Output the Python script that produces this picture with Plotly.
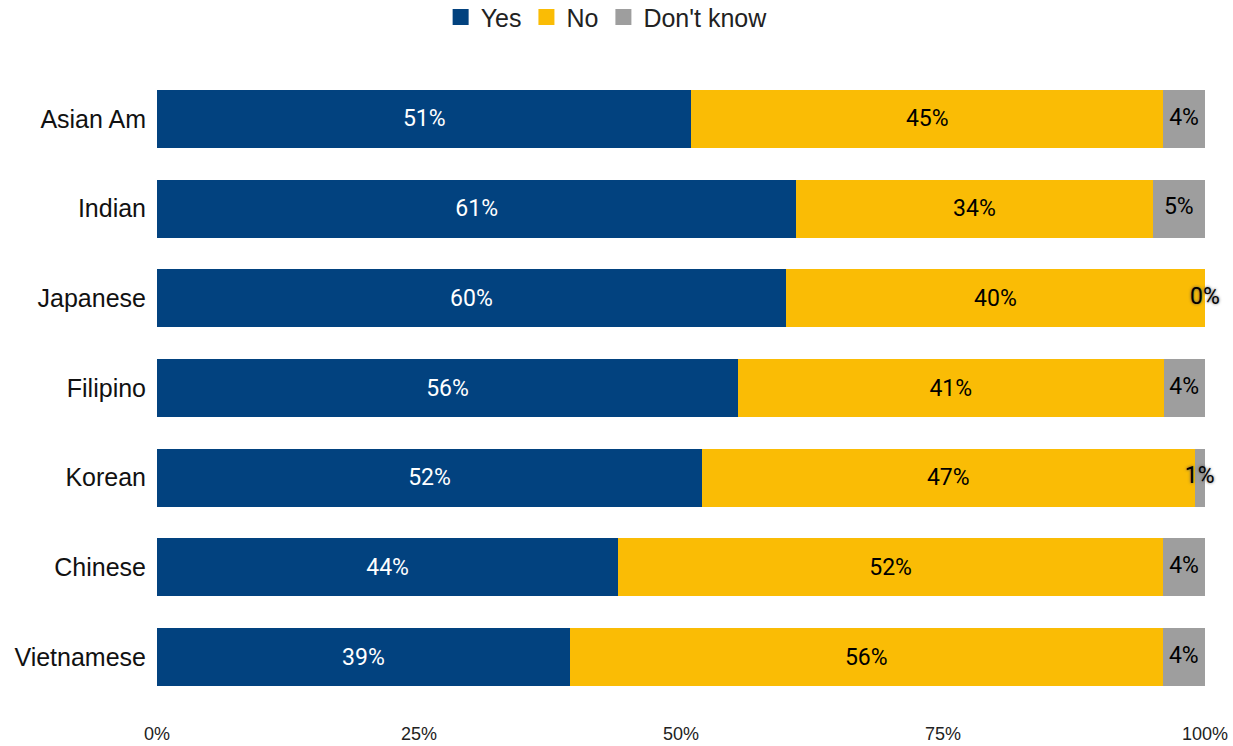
import plotly.graph_objects as go

categories = ["Asian Am", "Indian", "Japanese", "Filipino", "Korean", "Chinese", "Vietnamese"]
yes_vals = [51, 61, 60, 56, 52, 44, 39]
no_vals = [45, 34, 40, 41, 47, 52, 56]
dk_vals = [4, 5, 0, 4, 1, 4, 4]
x_ticks = [0, 25, 50, 75, 100]
x_tick_labels = ["0%", "25%", "50%", "75%", "100%"]

YES_C, NO_C, DK_C = "#02427f", "#fabc05", "#9e9e9e"
LABEL_FONT = "Roboto, Liberation Sans, Arial, sans-serif"
AXIS_FONT = "Liberation Sans, Arial, sans-serif"

series = [
    ("Yes", yes_vals, YES_C, "white", True),
    ("No", no_vals, NO_C, "black", True),
    ("Don't know", dk_vals, DK_C, "black", False),
]

fig = go.Figure()
for name, vals, color, tcolor, show_text in series:
    fig.add_trace(go.Bar(
        name=name,
        y=categories,
        x=vals,
        orientation="h",
        marker=dict(color=color, line=dict(width=0)),
        text=[f"{v}%" for v in vals] if show_text else None,
        textposition="inside" if show_text else "none",
        insidetextanchor="middle",
        constraintext="none",
        textangle=0,
        textfont=dict(color=tcolor, size=23, family=LABEL_FONT),
        hoverinfo="skip",
        showlegend=False,
    ))

# "Don't know" labels placed at the centre of the grey segment (normalised stack)
totals = [a + b + c for a, b, c in zip(yes_vals, no_vals, dk_vals)]
dk_mid = [(a + b + c / 2) / t * 100 for a, b, c, t in zip(yes_vals, no_vals, dk_vals, totals)]
fit_idx = [i for i, v in enumerate(dk_vals) if v >= 2]
over_idx = [i for i, v in enumerate(dk_vals) if v < 2]
for idx, shadow in [(fit_idx, "none"), (over_idx, "0px 0px 3px #555555")]:
    fig.add_trace(go.Scatter(
        x=[dk_mid[i] for i in idx],
        y=[categories[i] for i in idx],
        mode="text",
        text=[f"{dk_vals[i]}%" for i in idx],
        textposition="middle center",
        textfont=dict(color="black", size=23, family=LABEL_FONT, shadow=shadow),
        showlegend=False,
        hoverinfo="skip",
        cliponaxis=False,
    ))

# legend entries with larger square swatches
for name, _, color, _, _ in series:
    fig.add_trace(go.Scatter(
        x=[None], y=[None],
        mode="markers",
        name=name,
        marker=dict(symbol="square", size=19, color=color),
        showlegend=True,
        hoverinfo="skip",
    ))

fig.update_layout(
    barmode="stack",
    barnorm="percent",
    bargap=0.353,
    width=1233,
    height=746,
    autosize=False,
    margin=dict(l=157, r=28, t=74, b=44),
    paper_bgcolor="white",
    plot_bgcolor="white",
    font=dict(family=AXIS_FONT, color="#222222"),
    legend=dict(
        orientation="h",
        xref="container",
        yref="container",
        x=0.492,
        xanchor="center",
        y=0.977,
        yanchor="middle",
        font=dict(size=25, color="#222222"),
        traceorder="normal",
        itemsizing="trace",
        itemwidth=30,
    ),
)
fig.update_xaxes(
    range=[0, 100],
    tickvals=x_ticks,
    ticktext=x_tick_labels,
    showgrid=False,
    zeroline=False,
    showline=False,
    ticks="outside",
    ticklen=15,
    tickcolor="rgba(0,0,0,0)",
    tickfont=dict(size=18, color="#222222"),
    automargin=False,
    fixedrange=True,
)
fig.update_yaxes(
    categoryorder="array",
    categoryarray=categories[::-1],
    showgrid=False,
    zeroline=False,
    showline=False,
    ticks="outside",
    ticklen=5,
    tickcolor="rgba(0,0,0,0)",
    tickfont=dict(size=25, color="#111111"),
    automargin=False,
    fixedrange=True,
)

fig.write_html(
    "out.html",
    config={"responsive": False, "displayModeBar": False},
    post_script="document.body.style.margin='0';",
)
